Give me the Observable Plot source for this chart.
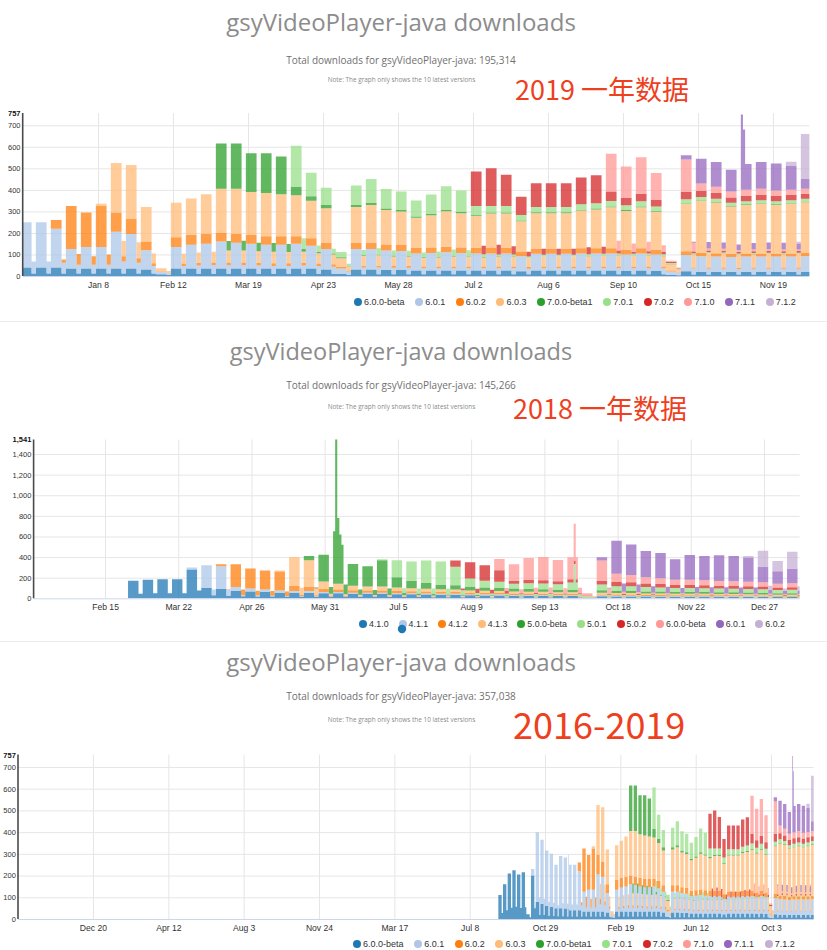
<!DOCTYPE html>
<html>
<head>
<meta charset="utf-8">
<script src="https://cdn.jsdelivr.net/npm/d3@7"></script>
<script src="https://cdn.jsdelivr.net/npm/@observablehq/plot@0.6"></script>
<style>
  html, body { margin: 0; padding: 0; background: #fff; }
  #page { position: relative; width: 827px; height: 950px; overflow: hidden; background: #fff; }
  .legend { position: absolute; display: flex; align-items: center; height: 10px; line-height: 10px;
            font-family: "Liberation Sans", Arial, sans-serif; color: #333; white-space: nowrap; }
  .legend .it { display: flex; align-items: center; }
  .legend .dot { display: inline-block; width: 8px; height: 8px; border-radius: 50%; margin-right: 2px; }
</style>
</head>
<body>
<div id="page"></div>
<script>
// ---------------- DATA ----------------
const palette = ["#1f77b4","#aec7e8","#ff7f0e","#ffbb78","#2ca02c","#98df8a","#d62728","#ff9896","#9467bd","#c5b0d5"];

const versions2019 = ["6.0.0-beta","6.0.1","6.0.2","6.0.3","7.0.0-beta1","7.0.1","7.0.2","7.1.0","7.1.1","7.1.2"];
const versions2018 = ["4.1.0","4.1.1","4.1.2","4.1.3","5.0.0-beta","5.0.1","5.0.2","6.0.0-beta","6.0.1","6.0.2"];

// weekly levels (Mon–Fri), week 0 = week of Mon 2018-12-03; "v*n" = n weeks at v
const weekdays2019 = [
  "40*3 35*5 30 8 35*10 30 10 30*2 28*2 25*7 22 25*6 24 25 24 6 22 20*8",
  "210 210 180 90 100 100 170 160 90 10 100 110 115 125 120 115 110 110 115 105 95 25 95 95 90 88 80 82 85 82 80 80 80 70 78 78 78 80 80 80 76 80 76 15 75 72 70 68 70 70 70 70 72",
  "0*2 40 200 160 190 90 70 40 3 45*3 40*5 35*2 30 8 30*2 28*2 25 25 26 25*4 22 24*6 22 24 22 4 18 16*2 15*6",
  "0*5 10 230 250 160 15 160 170 185 205 210 200 200 195 190 175 160 40 165 175 160 155 140 150 165 160 150 160 160 140 165 165 165 175 180 190 180 190 175 30 220 240 235 220 225 230 225 230 235",
  "0*13 210 210 180 185 175 40 20 15 4 10 10 8 8 6 6 6 5*4 4*10 1 3*9",
  "0*18 190 110 80 25 90 110 90 85 75 90 110 100 40 30 30 25 25*6 22 24 22 4 18 16 15 14*6",
  "0*30 160 175 145 85 110 110 110 125 130 45 35 35 30 5 35 28 26 25 25 25 24 24 22",
  "0*39 175 145 170 125 6 150 35 30 28 28 28 26 25 24",
  "0*44 20 115 115 100 120 125 125 110 45",
  "0*51 20 210"
];
// weekly levels (Sat–Sun)
const weekends2019 = [
  "12*9 5 11*11 6 8*21 4 7*9",
  "55 55 50 40 40 40 55 50 35 8 35 38 40 40 40 38 36 36 38 35 32 15 32 32 30 30 28 28 28 28 28 28 28 26 28 28 28 28 28 28 28 28 28 10 28 27 27 26 27 27 27 27 27",
  "0*2 15 50 40 45 25 20 12 2 12*11 4 8*21 2 5*9",
  "0*5 5 70 75 45 8 45 48 50 55 56 54 54 52 52 48 45 20 45 48 45 44 40 42 46 45 42 45 45 40 46 46 46 48 50 52 50 52 48 15 60 65 64 60 62 63 62 63 65",
  "0*13 45 45 40 40 38 12 6 5 2 3*11 1*20",
  "0*18 50 30 22 10 25 30 25 24 22 25 30 28 12 8*12 2 5*9",
  "0*30 40 45 38 22 28 28 28 32 33 14 10*3 2 8*9",
  "0*39 45 38 44 32 3 40 10 9 8 8 8 8 7 7",
  "0*44 5 30 30 26 30 32 32 28 12",
  "0*51 8 60"
];
const spikes2019 = [["2019-11-04","7.1.1",350],["2019-11-05","7.1.1",280]];

// week 0 = week of Mon 2018-01-08
const weekdays2018 = [
  "0*7 170 180 185 185 280 100 90 70 65 60 55 55 55 50 50 45 45 45 40 40 38 35 35 30 28 28 25 25 24 22 22 4 20 18 18 17 16 15 15 15 14 14 14 13 12 12",
  "0*11 20 220 220 40 30 25 20 15 15 12 10 10*5 9 9 9 8 8 8 8 7*4 1 6*3 5*8 4*3",
  "0*13 20 220 195 185 185 50 40 30 25 22 20 20 20 18 18 17 17 16 15 15 14 14 14 13 13 2 12 12 12 11 11 10 10 10 10 10 9 9 8 8",
  "0*17 10 280 260 70 55 45 40 40 35 30 28 26 25 22 22 20 20 18 18 17 17 3 16 15 15 14 14 13 13 13 12 12 12 12 11 11",
  "0*19 40 260 380 210 195 255 100 70 55 45 40 35 32 30 28 27 26 25 25 4 24 22 22 20 20 18 18 18 17 17 16 16 15 15",
  "0*24 10 165 190 220 225 180 80 65 60 45 55 55 52 70 8 55 45 45 42 40 38 38 36 36 35 34 34 30 32",
  "0*29 60 160 150 110 30 35 32 30 30 5 35 40 38 35 33 30 30 30 28 28 27 26 24 25",
  "0*32 110 160 210 225 205 215 22 200 80 70 60 55 50 50 48 46 45 44 42 38 40",
  "0*39 30 320 295 255 245 200 240 235 250 245 235 150 120 140",
  "0*49 15 155 100 165"
];
const weekends2018 = [
  "0*7 45 50 50 50 75 30 25 20 18 17 16 15 15 14 14 13 13 13 12 12 11 10 10 9 8 8 8 8 7 7 7 2 6 6 6 5 5 5 5 5 5 5 5 5 4 4",
  "0*11 5 55 55 10 8 7 5 4*20 1 2*14",
  "0*13 5 55 48 46 46 13 10 8 7 6 5 5 5 5 5 5 4 4 4 4 4 4 4 4 4 1 3*14",
  "0*17 3 70 65 18 14 11 10 10 9 8 7 7 6 6 6 5 5 5 5 4 4 1 4*14",
  "0*19 10 65 95 52 48 64 25 18 14 11 10 9 8 8 7 7 7 6 6 1 6 6 6 5 5 5 5 5 4 4 4 4 4 4",
  "0*24 3 42 48 55 56 45 20 16 15 12 14 14 13 15 4 14 12 12 11 10 10 10 9 9 9 9 9 8 8",
  "0*29 15 40 38 28 8 9 8 8 8 2 9 10 10 9 8 8 8 8 7 7 7 7 6 6",
  "0*32 28 40 52 56 51 54 8 50 20 18 15 14 13 13 12 12 11 11 11 10 10",
  "0*39 8 80 74 64 61 50 60 59 62 61 59 38 30 35",
  "0*49 4 39 25 41"
];
const spikes2018 = [
  ["2018-06-04","5.0.0-beta",510],["2018-06-05","5.0.0-beta",1400],
  ["2018-06-06","5.0.0-beta",640],["2018-06-07","5.0.0-beta",480],
  ["2018-09-27","5.0.1",250],["2018-09-27","6.0.0-beta",360]
];

const xTicks2019 = ["2019-01-08","2019-02-12","2019-03-19","2019-04-23","2019-05-28","2019-07-02","2019-08-06","2019-09-10","2019-10-15","2019-11-19"];
const xTicks2018 = ["2018-02-15","2018-03-22","2018-04-26","2018-05-31","2018-07-05","2018-08-09","2018-09-13","2018-10-18","2018-11-22","2018-12-27"];
const xTicksAll  = ["2016-12-20","2017-04-12","2017-08-03","2017-11-24","2018-03-17","2018-07-08","2018-10-29","2019-02-19","2019-06-12","2019-10-03"];
const yTicks2019 = [0,100,200,300,400,500,600,700,757];
const yTicks2018 = [0,200,400,600,800,1000,1200,1400,1541];
const yTicksAll  = [0,100,200,300,400,500,600,700,757];

const titleText = "gsyVideoPlayer-java downloads";
const totals = ["195,314","145,266","357,038"];
const noteText = "Note: The graph only shows the 10 latest versions";
const marks = ["2019 一年数据","2018 一年数据","2016-2019"];

// ---------------- BUILD ----------------
const page = document.getElementById("page");
const D = s => new Date(s + "T00:00:00Z");
const fmtKey = d3.utcFormat("%Y-%m-%d");

function parseSeries(s) {
  return s.trim().split(/\s+/).flatMap(t => {
    const [v, n] = t.split("*");
    return Array(n ? +n : 1).fill(+v);
  });
}

function getter(names, wd, we, week0, spikes) {
  const WD = wd.map(parseSeries), WE = we.map(parseSeries);
  const ov = new Map((spikes || []).map(([d, v, val]) => [d + "|" + v, val]));
  return (date, name) => {
    const i = names.indexOf(name);
    if (i < 0) return 0;
    const key = fmtKey(date) + "|" + name;
    if (ov.has(key)) return ov.get(key);
    const k = Math.floor(d3.utcDay.count(week0, date) / 7);
    const dow = date.getUTCDay();
    const arr = (dow === 0 || dow === 6) ? WE[i] : WD[i];
    return arr[k] ?? 0;
  };
}

const g2019 = getter(versions2019, weekdays2019, weekends2019, D("2018-12-03"), spikes2019);
const g2018 = getter(versions2018, weekdays2018, weekends2018, D("2018-01-08"), spikes2018);
const g2018base = getter(versions2018, weekdays2018, weekends2018, D("2018-01-08"), []);

function buildRows(names, start, endExcl, valueOf) {
  const rows = [];
  const days = d3.utcDay.range(start, endExcl);
  for (const day of days) for (const n of names) rows.push({date: day, version: n, value: valueOf(day, n)});
  const last = days[days.length - 1];
  for (const n of names) rows.push({date: endExcl, version: n, value: valueOf(last, n)});
  return rows;
}

const rows2019 = buildRows(versions2019, D("2018-12-04"), D("2019-12-06"), g2019);
const rows2018 = buildRows(versions2018, D("2018-01-12"), D("2019-01-13"), g2018);
const split = D("2018-12-04");
const rowsAll = buildRows(versions2019, D("2018-08-20"), D("2019-12-06"),
  (d, n) => d < split ? g2018base(d, n) : g2019(d, n));

function chart(cfg) {
  const maxTick = cfg.yTicks[cfg.yTicks.length - 1];
  const xt = cfg.xTicks.map(D);
  const svg = Plot.plot({
    width: 827, height: 200,
    marginTop: cfg.mt, marginBottom: cfg.mb, marginLeft: cfg.ml, marginRight: cfg.mr,
    x: {type: "utc", domain: cfg.xDomain},
    y: {domain: [0, maxTick]},
    color: {domain: cfg.names, range: palette},
    style: {background: "transparent", fontFamily: '"Liberation Sans", Arial, sans-serif', color: "#333", overflow: "visible"},
    marks: [
      Plot.gridY(cfg.yTicks.slice(1, -1), {stroke: "#e6e6e6", strokeOpacity: 1}),
      Plot.gridX(xt, {stroke: "#e6e6e6", strokeOpacity: 1}),
      Plot.areaY(cfg.rows, {x: "date", y: "value", fill: "version", fillOpacity: 0.75, curve: "step-after"}),
      Plot.ruleY([0], {stroke: "#ccd6eb"}),
      Plot.ruleX([cfg.xDomain[0]], {stroke: "#4a4a4a", strokeWidth: 1.6, dx: -0.8}),
      Plot.axisY(cfg.yTicks.slice(0, -1), {tickSize: 0, tickPadding: 3, label: null, fontSize: 7.5, color: "#333", tickFormat: cfg.yFormat}),
      Plot.axisY([maxTick], {tickSize: 0, tickPadding: 3, label: null, fontSize: 7.5, fontWeight: "bold", color: "#111", tickFormat: cfg.yFormat}),
      Plot.axisX(xt, {tickSize: 0, tickPadding: 5, label: null, fontSize: 8.6, color: "#333", tickFormat: d3.utcFormat("%b %-d")})
    ]
  });
  svg.style.position = "absolute";
  svg.style.left = "0px";
  svg.style.top = cfg.top + "px";
  page.appendChild(svg);
}

function legend(names, left, cy, fontSize, gap) {
  const div = document.createElement("div");
  div.className = "legend";
  div.style.left = left + "px";
  div.style.top = (cy - 5) + "px";
  div.style.fontSize = fontSize + "px";
  div.style.gap = gap + "px";
  names.forEach((n, i) => {
    const it = document.createElement("div");
    it.className = "it";
    it.innerHTML = `<span class="dot" style="background:${palette[i]}"></span><span>${n}</span>`;
    div.appendChild(it);
  });
  page.appendChild(div);
}

// header texts, separators
const head = [
  {tY: 31, tSize: 24, sY: 63.5, nY: 81.5, mX: 515, mY: 100, mSize: 27},
  {tY: 360, tSize: 23.5, sY: 389, nY: 409, mX: 513, mY: 419, mSize: 27},
  {tY: 671, tSize: 24, sY: 699.5, nY: 721.5, mX: 513, mY: 739, mSize: 36}
];
let hs = `<svg xmlns="http://www.w3.org/2000/svg" width="827" height="950" style="position:absolute;left:0;top:0">`;
hs += `<line x1="0" x2="827" y1="321.5" y2="321.5" stroke="#ececec"/>`;
hs += `<line x1="0" x2="827" y1="641.5" y2="641.5" stroke="#ececec"/>`;
head.forEach((h, i) => {
  hs += `<text x="401" y="${h.tY}" text-anchor="middle" font-family="'Open Sans', sans-serif" font-size="${h.tSize}" fill="#8c8c8c">${titleText}</text>`;
  hs += `<text x="401" y="${h.sY}" text-anchor="middle" font-family="'Open Sans', sans-serif" font-size="10" fill="#707070">Total downloads for gsyVideoPlayer-java: ${totals[i]}</text>`;
  hs += `<text x="401.5" y="${h.nY}" text-anchor="middle" font-family="'Open Sans', sans-serif" font-size="6.4" fill="#8a8a8a">${noteText}</text>`;
  hs += `<text x="${h.mX}" y="${h.mY}" font-family="'Noto Sans CJK SC', sans-serif" font-size="${h.mSize}" fill="#ee3f1e">${marks[i]}</text>`;
});
hs += `</svg>`;
page.insertAdjacentHTML("beforeend", hs);

chart({rows: rows2019, names: versions2019, xDomain: [D("2018-12-04"), D("2019-12-06")], xTicks: xTicks2019,
       yTicks: yTicks2019, top: 100, mt: 13, mb: 24, ml: 23, mr: 17.6, yFormat: d3.format(",")});
chart({rows: rows2018, names: versions2018, xDomain: [D("2018-01-12"), D("2019-01-13")], xTicks: xTicks2018,
       yTicks: yTicks2018, top: 430, mt: 9.5, mb: 31.7, ml: 33.9, mr: 27.4, yFormat: d3.format(",")});
chart({rows: rowsAll, names: versions2019, xDomain: [D("2016-08-30"), D("2019-12-06")], xTicks: xTicksAll,
       yTicks: yTicksAll, top: 745, mt: 9.6, mb: 26, ml: 18.3, mr: 13.3, yFormat: d3.format(",")});

legend(versions2019, 354, 301.5, 9, 10.6);
legend(versions2018, 359, 624, 8.8, 10);
legend(versions2019, 353, 943.5, 9, 10.6);

// stray marker seen under the 4.1.1 legend entry
page.insertAdjacentHTML("beforeend",
  `<svg width="10" height="10" style="position:absolute;left:397px;top:623.5px"><circle cx="5" cy="5" r="4.2" fill="${palette[0]}"/></svg>`);
</script>
</body>
</html>
